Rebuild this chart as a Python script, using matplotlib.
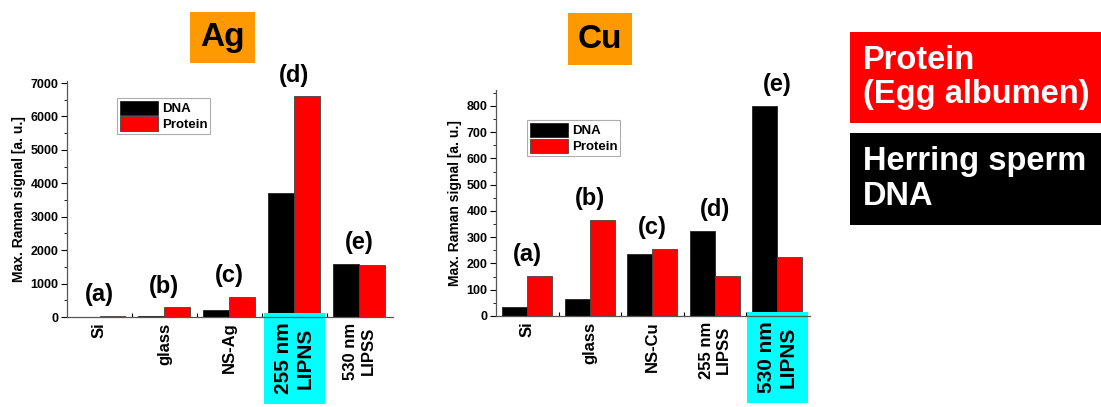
import numpy as np
import matplotlib
matplotlib.use('Agg')
import matplotlib.pyplot as plt
from matplotlib.patches import Rectangle

plt.rcParams['font.family'] = ['Liberation Sans', 'DejaVu Sans']
plt.rcParams['font.weight'] = 'bold'
plt.rcParams['axes.labelweight'] = 'bold'

# data
ag_labels = ['Si', 'glass', 'NS-Ag', '255 nm\nLIPNS', '530 nm\nLIPSS']
ag_dna = [10, 20, 210, 3720, 1590]
ag_protein = [30, 290, 610, 6600, 1550]

cu_labels = ['Si', 'glass', 'NS-Cu', '255 nm\nLIPSS', '530 nm\nLIPNS']
cu_dna = [33, 64, 236, 324, 801]
cu_protein = [154, 366, 255, 154, 226]

letters = ['(a)', '(b)', '(c)', '(d)', '(e)']
ag_highlight = 3
cu_highlight = 4

fig = plt.figure(figsize=(11.01, 4.07), dpi=100)
ax1 = fig.add_axes([0.0609, 0.221, 0.296, 0.579])
ax2 = fig.add_axes([0.4505, 0.2236, 0.285, 0.5547])


def draw_panel(ax, labels, dna, protein, highlight, ymax, major, minor, leg_pos):
    x = np.arange(len(labels))
    w = 0.4
    ax.bar(x - w / 2, dna, w, color='black', edgecolor='#222222', linewidth=0.6, label='DNA')
    ax.bar(x + w / 2, protein, w, color='#ff0000', edgecolor='#444444', linewidth=0.6, label='Protein')

    ax.set_xlim(-0.5, 4.52)
    ax.set_ylim(0, ymax)
    ax.set_yticks(np.arange(0, ymax, major))
    ax.set_yticks(np.arange(0, ymax, minor), minor=True)
    ax.set_xticks(x)
    ax.set_xticks(x[:-1] + 0.5, minor=True)
    ax.set_xticklabels(labels, rotation=90, fontsize=12, fontweight='bold',
                       multialignment='center')
    ax.tick_params(axis='x', which='major', length=0, pad=4)
    ax.tick_params(axis='x', which='minor', length=3, direction='in', width=0.8)
    ax.tick_params(axis='y', which='major', length=4, width=0.8, labelsize=9, pad=2)
    ax.tick_params(axis='y', which='minor', length=2, width=0.6)
    for t in ax.get_yticklabels():
        t.set_fontweight('bold')

    for s in ['top', 'right']:
        ax.spines[s].set_visible(False)
    for s in ['left', 'bottom']:
        ax.spines[s].set_color('#555555')
        ax.spines[s].set_linewidth(0.9)
    ax.set_ylabel('Max. Raman signal [a. u.]', fontsize=10, fontweight='bold', labelpad=3)

    # highlighted category label in a cyan box
    hl = ax.get_xticklabels()[highlight]
    hl.set_fontsize(15)
    hl.set_bbox(dict(facecolor='#00ffff', edgecolor='none', pad=7))

    for i in range(len(labels)):
        top = max(dna[i], protein[i])
        ax.annotate(letters[i], (x[i], top), xytext=(0, 7), textcoords='offset points',
                    ha='center', va='bottom', fontsize=17, fontweight='bold')

    leg = ax.legend(loc='upper left', bbox_to_anchor=leg_pos, fontsize=9.5, frameon=True,
                    fancybox=False, handlelength=2.9, handleheight=1.3, borderpad=0.2,
                    labelspacing=0.1, handletextpad=0.3, borderaxespad=0)
    leg.get_frame().set_edgecolor('#999999')
    leg.get_frame().set_linewidth(0.8)
    for t in leg.get_texts():
        t.set_fontweight('bold')


draw_panel(ax1, ag_labels, ag_dna, ag_protein, ag_highlight, 7050, 1000, 500, (0.153, 0.93))
draw_panel(ax2, cu_labels, cu_dna, cu_protein, cu_highlight, 860, 100, 50, (0.099, 0.868))

# metal title boxes
for (x0, y0, w, h, name) in [(190, 12, 65, 51, 'Ag'), (568, 13, 64, 52, 'Cu')]:
    fx, fy = x0 / 1101, 1 - (y0 + h) / 407
    fig.patches.append(Rectangle((fx, fy), w / 1101, h / 407, transform=fig.transFigure,
                                 facecolor='#ff9900', edgecolor='none'))
    fig.text(fx + w / 2202, fy + h / 814, name, ha='center', va='center',
             fontsize=24, fontweight='bold', color='black')

# side key boxes
fig.patches.append(Rectangle((0.772, 0.698), 0.228, 0.223, transform=fig.transFigure,
                             facecolor='#ff0000', edgecolor='none'))
fig.patches.append(Rectangle((0.772, 0.447), 0.228, 0.226, transform=fig.transFigure,
                             facecolor='black', edgecolor='none'))
fig.text(0.784, 0.81, 'Protein\n(Egg albumen)', ha='left', va='center', fontsize=23.5,
         fontweight='bold', color='white', linespacing=1.15)
fig.text(0.784, 0.56, 'Herring sperm\nDNA', ha='left', va='center', fontsize=23.5,
         fontweight='bold', color='white', linespacing=1.15)

fig.savefig('out.png', dpi=100)
